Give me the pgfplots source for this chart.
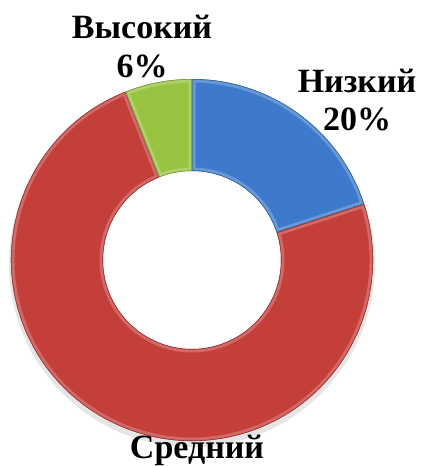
\documentclass[border=0pt]{standalone}
\usepackage{fontspec}
\setmainfont{Liberation Serif}
\usepackage{pgfplots}
\usepackage{pgfplotstable}
\pgfplotsset{compat=1.18}

\definecolor{seg0}{RGB}{62,122,204}
\definecolor{seg1}{RGB}{196,62,58}
\definecolor{seg2}{RGB}{152,196,66}

% shares in percent, clockwise from 12 o'clock
\pgfplotstableread{
idx pct
0 20
1 74
2 6
}\shares

% ring geometry (axis units = pt)
\def\cx{192}
\def\cy{206}
\def\rout{181}
\def\rin{89}

% turn the shares into start/end angles
\xdef\curang{90}
\pgfplotsinvokeforeach{0,1,2}{%
  \pgfplotstablegetelem{#1}{pct}\of\shares
  \pgfmathparse{3.6*\pgfplotsretval}\xdef\segspan{\pgfmathresult}%
  \expandafter\xdef\csname sA#1\endcsname{\curang}%
  \pgfmathparse{\curang-\segspan}\xdef\curang{\pgfmathresult}%
  \expandafter\xdef\csname eA#1\endcsname{\curang}%
}

\newcommand{\segpath}[1]{%
  ([shift={(\csname sA#1\endcsname:\rout pt)}]axis cs:\cx,\cy)
  arc[start angle=\csname sA#1\endcsname, end angle=\csname eA#1\endcsname, radius=\rout pt]
  -- ([shift={(\csname eA#1\endcsname:\rin pt)}]axis cs:\cx,\cy)
  arc[start angle=\csname eA#1\endcsname, end angle=\csname sA#1\endcsname, radius=\rin pt]
  -- cycle}

\begin{document}
\begin{tikzpicture}
\useasboundingbox (0,0) rectangle (422pt,466pt);
\begin{axis}[
    width=422pt, height=466pt,
    scale only axis,
    xmin=0, xmax=422, ymin=0, ymax=466,
    hide axis,
    clip=false,
]
% soft shadow under the ring
\fill[black, opacity=0.10, even odd rule]
  (axis cs:\cx,\cy-4) circle[radius=\rout pt+2pt]
  (axis cs:\cx,\cy) circle[radius=\rout pt-4pt];
\pgfplotsinvokeforeach{0,1,2}{%
  \begin{scope}
    \fill[seg#1] \segpath{#1};
    \clip \segpath{#1};
    \draw[seg#1!55!white, line width=7pt, opacity=0.5] \segpath{#1};
    \draw[seg#1!75!black, line width=1.2pt] \segpath{#1};
  \end{scope}
}
% labels
\begin{scope}[every node/.style={font=\fontsize{34}{38}\selectfont\bfseries, anchor=base, inner sep=0pt}]
\node at (axis cs:142,427) {Высокий};
\node at (axis cs:142,388) {6\%};
\node at (axis cs:357,373) {Низкий};
\node at (axis cs:357,335) {20\%};
\node at (axis cs:197,8) {Средний};
\end{scope}
\end{axis}
\end{tikzpicture}
\end{document}
